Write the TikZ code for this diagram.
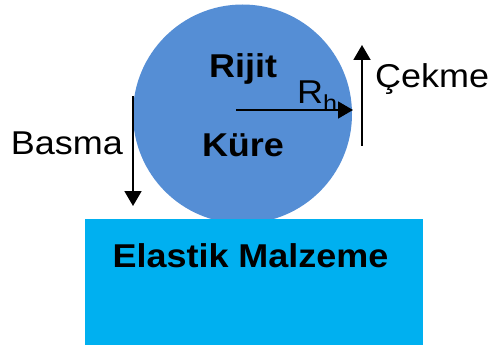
\documentclass[tikz,border=0pt]{standalone}
\usepackage{fontspec}
\setmainfont[FakeStretch=1.09]{Liberation Sans}
\usetikzlibrary{arrows.meta}
\definecolor{sphereblue}{RGB}{85,142,213}
\definecolor{slabcyan}{RGB}{0,176,240}
\tikzset{
  lbl/.style={inner sep=0pt, font=\fontsize{33}{38}\selectfont, text=black},
  boldlbl/.style={lbl, font=\fontsize{33}{38}\selectfont\bfseries},
  force/.style={line width=1.9pt, -{Triangle[width=17pt,length=15pt]}}
}
\begin{document}
\begin{tikzpicture}[x=1pt,y=-1pt]
  \useasboundingbox (0,0) rectangle (488,345);
  % rigid sphere
  \node[circle, fill=sphereblue, minimum size=219pt, inner sep=0pt] (sphere) at (242.5,114) {};
  % elastic slab
  \node[fill=slabcyan, minimum width=338pt, minimum height=126pt, inner sep=0pt, anchor=north west] (slab) at (85,219) {};
  % labels
  \node[boldlbl, anchor=base] (rijit) at (243,78) {Rijit};
  \node[boldlbl, anchor=base] (kure) at (243,157) {Küre};
  \node[boldlbl, anchor=base] (elastik) at (250.5,267) {Elastik Malzeme};
  \node[lbl, anchor=base east] (basma) at (123,154) {Basma};
  \node[lbl, anchor=base west] (cekme) at (375,88) {Çekme};
  \node[lbl, anchor=base west] (rh) at (297,103) {R\textsubscript{h}};
  % force and radius arrows
  \coordinate (bTop) at (133,96);
  \coordinate (bTip) at (133,206);
  \coordinate (cBot) at (362,146);
  \coordinate (cTip) at (362,45);
  \coordinate (rTip) at (353,110);
  \draw[force] (bTop) -- (bTip);
  \draw[force] (cBot) -- (cTip);
  \draw[force, line width=1.6pt] (236,110) -- (rTip);
\end{tikzpicture}
\end{document}
